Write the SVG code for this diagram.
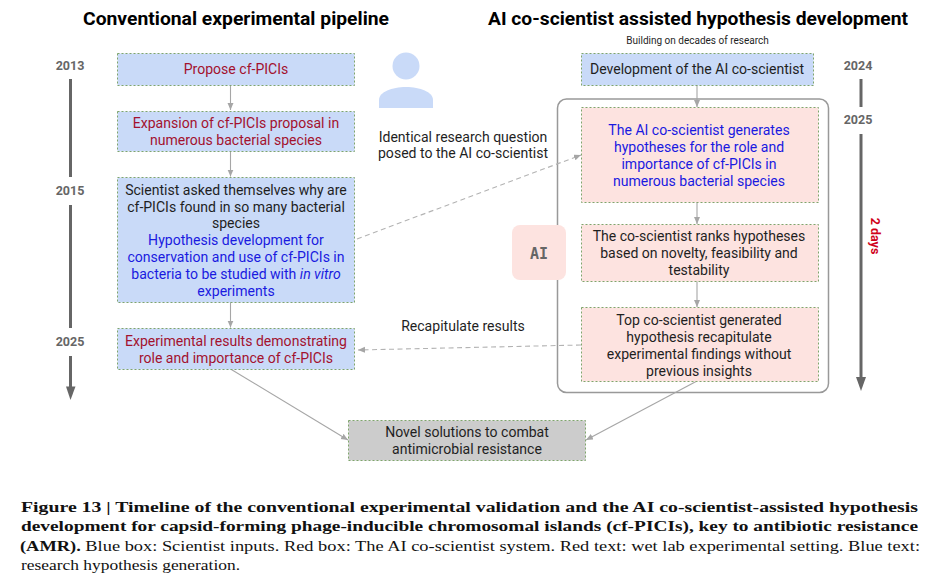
<svg xmlns="http://www.w3.org/2000/svg" width="951" height="579" viewBox="0 0 951 579">
<style>
text{font-family:Roboto,"Open Sans",Arial,sans-serif;font-size:14.050px;fill:#1f1f1f;text-anchor:middle}
.title{font-size:18.500px;font-weight:700;fill:#000}
.yr{font-size:12.500px;font-weight:700;fill:#666}
.red{fill:#a3122f}.blue{fill:#1a1ae0}
.b{fill:#c9daf8;stroke:#7fa56c;stroke-width:1;stroke-dasharray:2 2}
.p{fill:#fde3e0;stroke:#7fa56c;stroke-width:1;stroke-dasharray:2 2}
.g{fill:#cccccc;stroke:#7fa56c;stroke-width:1;stroke-dasharray:2 2}
.c{fill:none;stroke:#a6a6a6;stroke-width:1.100;marker-end:url(#a)}
.d{stroke:#b3b3b3;stroke-dasharray:5 3.500}
.t{stroke:#666;stroke-width:3;fill:none}
.cap{font-family:"Liberation Serif","Times New Roman",serif;font-size:14.500px;text-anchor:start;fill:#111}
.capb{font-weight:700}
</style>
<defs>
<marker id="a" markerUnits="userSpaceOnUse" markerWidth="8" markerHeight="8" refX="7" refY="3" orient="auto"><path d="M0 0L7 3L0 6z" fill="#a6a6a6"/></marker>
</defs>
<text class="title" x="236" y="25" textLength="306" lengthAdjust="spacingAndGlyphs">Conventional experimental pipeline</text>
<text class="title" x="698" y="25" textLength="420" lengthAdjust="spacingAndGlyphs">AI co-scientist assisted hypothesis development</text>
<text x="697.500" y="44" style="font-size:10px">Building on decades of research</text>
<g id="timeline-left">
<text class="yr" x="70" y="70">2013</text><path class="t" d="M70.500 79V177"/>
<text class="yr" x="70" y="195">2015</text><path class="t" d="M70.500 205V328"/>
<text class="yr" x="70" y="346">2025</text><path d="M70.500 356V387" class="t"/><path d="M66 386.500H75.500L70.500 400z" fill="#666"/>
</g>
<g id="timeline-right">
<text class="yr" x="858" y="70">2024</text><path class="t" d="M861 79V107"/>
<text class="yr" x="858" y="124">2025</text><path class="t" d="M861 134V379"/><path d="M856 377H866L861 391z" fill="#666"/>
<text x="871" y="236" transform="rotate(90 871 236)" style="font-size:12.500px;font-weight:700;fill:#d0021b">2 days</text>
</g>
<g id="ai-frame"><rect x="557.500" y="99" width="271" height="293.500" rx="9" fill="none" stroke="#999" stroke-width="1.500"/></g>
<g id="connectors">
<path class="c" d="M230.500 85V110"/>
<path class="c" d="M230.500 151V176.500"/>
<path class="c" d="M230.500 302V327.500"/>
<path class="c" d="M697 85V107"/>
<path class="c" d="M697 202V224"/>
<path class="c" d="M697 281V307"/>
<path class="c d" d="M357 239L581 155"/>
<path class="c d" d="M581 345L358 350"/>
<path class="c" d="M230.500 369L348 440"/>
<path class="c" d="M697 381L586 440"/>
</g>
<g id="n1"><rect class="b" x="117.500" y="53.500" width="237" height="32"/><text class="red" x="236" y="74">Propose cf-PICIs</text></g>
<g id="n2"><rect class="b" x="117.500" y="111.500" width="237" height="40"/><text class="red"><tspan x="236" y="128">Expansion of cf-PICIs proposal in</tspan><tspan x="236" y="145">numerous bacterial species</tspan></text></g>
<g id="n3"><rect class="b" x="117.500" y="177.500" width="237" height="125"/><text><tspan x="236" y="195">Scientist asked themselves why are</tspan><tspan x="236" y="211.500">cf-PICIs found in so many bacterial</tspan><tspan x="236" y="228">species</tspan></text><text class="blue"><tspan x="236" y="245">Hypothesis development for</tspan><tspan x="236" y="262">conservation and use of cf-PICIs in</tspan><tspan x="236" y="279">bacteria to be studied with <tspan font-style="italic">in vitro</tspan></tspan><tspan x="236" y="295.500">experiments</tspan></text></g>
<g id="n4"><rect class="b" x="117.500" y="328.500" width="237" height="41"/><text class="red"><tspan x="236" y="346">Experimental results demonstrating</tspan><tspan x="236" y="363">role and importance of cf-PICIs</tspan></text></g>
<g id="n5"><rect class="g" x="348.500" y="420.500" width="237" height="40"/><text><tspan x="467" y="437">Novel solutions to combat</tspan><tspan x="467" y="454">antimicrobial resistance</tspan></text></g>
<g id="n6"><rect class="b" x="581.500" y="53.500" width="232" height="32"/><text x="697" y="74">Development of the AI co-scientist</text></g>
<g id="n7"><rect class="p" x="581.500" y="107.500" width="237" height="95"/><text class="blue"><tspan x="699" y="135">The AI co-scientist generates</tspan><tspan x="699" y="151.500">hypotheses for the role and</tspan><tspan x="699" y="168.500">importance of cf-PICIs in</tspan><tspan x="699" y="185.500">numerous bacterial species</tspan></text></g>
<g id="n8"><rect class="p" x="581.500" y="224.500" width="237" height="57"/><text><tspan x="699" y="241">The co-scientist ranks hypotheses</tspan><tspan x="699" y="258">based on novelty, feasibility and</tspan><tspan x="699" y="275">testability</tspan></text></g>
<g id="n9"><rect class="p" x="581.500" y="307.500" width="237" height="74"/><text><tspan x="699" y="325">Top co-scientist generated</tspan><tspan x="699" y="341.500">hypothesis recapitulate</tspan><tspan x="699" y="358.500">experimental findings without</tspan><tspan x="699" y="375.500">previous insights</tspan></text></g>
<g id="ai-badge"><rect x="512" y="225" width="54" height="55" rx="8" fill="#fde3e0"/><text x="539" y="259" style="font-family:'DejaVu Sans Mono','Liberation Mono',monospace;font-size:15px;font-weight:700;fill:#666">AI</text></g>
<g id="person"><circle cx="406" cy="66" r="13.500" fill="#c9daf8"/><path d="M379 108V100C379 92 392 87 406 87S433 92 433 100V108z" fill="#c9daf8"/></g>
<g id="labels">
<text><tspan x="463" y="142">Identical research question</tspan><tspan x="463" y="158">posed to the AI co-scientist</tspan></text>
<text x="463" y="331">Recapitulate results</text>
</g>
<g id="caption">
<text class="cap capb" x="21" y="512" textLength="897" lengthAdjust="spacingAndGlyphs">Figure 13 | Timeline of the conventional experimental validation and the AI co-scientist-assisted hypothesis</text>
<text class="cap capb" x="21" y="531" textLength="897" lengthAdjust="spacingAndGlyphs">development for capsid-forming phage-inducible chromosomal islands (cf-PICIs), key to antibiotic resistance</text>
<text class="cap" x="20" y="551" textLength="900" lengthAdjust="spacingAndGlyphs"><tspan class="capb">(AMR).</tspan> Blue box: Scientist inputs. Red box: The AI co-scientist system. Red text: wet lab experimental setting. Blue text:</text>
<text class="cap" x="21" y="570" textLength="219" lengthAdjust="spacingAndGlyphs">research hypothesis generation.</text>
</g>
</svg>
